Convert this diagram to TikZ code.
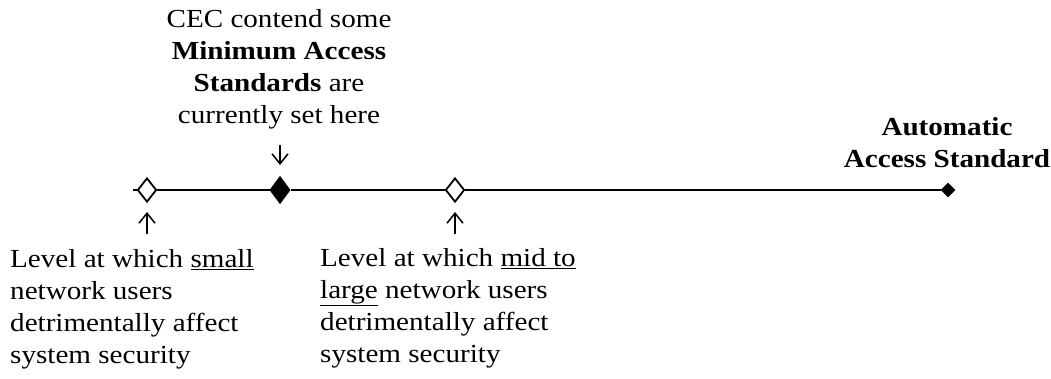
\documentclass[tikz,border=0pt]{standalone}
\usepackage{fontspec}
\setmainfont{Liberation Serif}[FakeStretch=1.12]
\usetikzlibrary{shapes.geometric,arrows.meta}
\begin{document}
\begin{tikzpicture}[x=1pt,y=-1pt,
  txt/.style={inner sep=0pt,font=\fontsize{26}{32}\selectfont},
  hollowd/.style={shape=diamond,draw,line width=1.8pt,fill=white,minimum width=19pt,minimum height=24pt,inner sep=0pt},
  solidd/.style={shape=diamond,draw,line width=1pt,fill=black,minimum width=20pt,minimum height=27pt,inner sep=0pt},
  endd/.style={shape=diamond,draw,line width=0.5pt,fill=black,minimum width=14pt,minimum height=14pt,inner sep=0pt},
  pointer/.style={line width=1.5pt,-{Straight Barb[length=10pt,width=16pt,line width=1.5pt]}},
  axis/.style={line width=2.2pt}]
\useasboundingbox (0,0) rectangle (1051,378);
\coordinate (s) at (133,190);
\node[hollowd] (d1) at (147,190) {};
\node[solidd] (d2) at (280,190) {};
\node[hollowd] (d3) at (455,190) {};
\node[endd] (d4) at (948,190) {};
\draw[axis] (s) -- (d1) (d1) -- (d2) (d2) -- (d3) (d3) -- (d4);
\coordinate (t1) at (280,145);
\coordinate (b1) at (147,234);
\coordinate (b3) at (455,234);
\draw[pointer] (t1) -- (d2.north |- 0,165);
\draw[pointer] (b1) -- (147,212);
\draw[pointer] (b3) -- (455,212);
\node[txt,align=center,anchor=north] (top) at (279,9) {CEC contend some\\\textbf{Minimum Access}\\\textbf{Standards} are\\currently set here};
\node[txt,align=center,anchor=north] (auto) at (947,117) {\textbf{Automatic}\\\textbf{Access Standard}};
\node[txt,align=left,anchor=north west] (small) at (10,249) {Level at which \underline{small}\\network users\\detrimentally affect\\system security};
\node[txt,align=left,anchor=north west] (large) at (320,248) {Level at which \underline{mid to}\\\underline{large} network users\\detrimentally affect\\system security};
\end{tikzpicture}
\end{document}
